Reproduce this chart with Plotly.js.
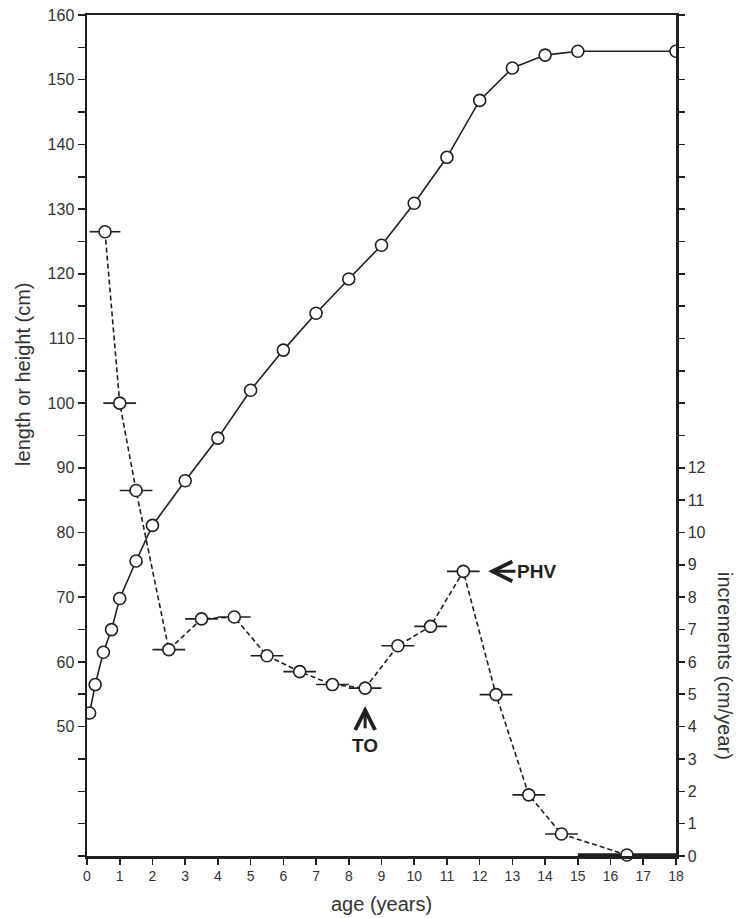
<!DOCTYPE html>
<html>
<head>
<meta charset="utf-8">
<script src="https://cdn.plot.ly/plotly-3.0.1.min.js"></script>
<style>
  html, body { margin: 0; padding: 0; background: #fff; }
  #chart { width: 737px; height: 918px; }
</style>
</head>
<body>
<div id="chart"></div>
<script>
// Height / length curve (left axis, cm)
var ageHeight = [0.08, 0.25, 0.5, 0.75, 1, 1.5, 2, 3, 4, 5, 6, 7, 8, 9, 10, 11, 12, 13, 14, 15, 18];
var heightCm  = [52.1, 56.5, 61.5, 65.0, 69.8, 75.6, 81.1, 88.0, 94.6, 102.0, 108.2, 113.9, 119.2, 124.4, 130.9, 138.0, 146.8, 151.8, 153.8, 154.4, 154.4];

// Increments (right axis, cm/year), plotted at interval midpoints
var ageIncr   = [0.55, 1, 1.5, 2.5, 3.5, 4.5, 5.5, 6.5, 7.5, 8.5, 9.5, 10.5, 11.5, 12.5, 13.5, 14.5];
var incrCmYr  = [19.3, 14.0, 11.3, 6.38, 7.33, 7.39, 6.19, 5.70, 5.30, 5.19, 6.50, 7.10, 8.80, 4.99, 1.89, 0.68];
var incrHalf  = [0.47, 0.5, 0.5, 0.5, 0.5, 0.5, 0.5, 0.5, 0.5, 0.5, 0.5, 0.5, 0.5, 0.5, 0.5, 0.5];

// Last increment (wide interval 15–18)
var ageLast   = [16.5];
var incrLast  = [0.03];
var halfLast  = [1.5];

// Tick labels
var leftTickVals = [30,35,40,45,50,55,60,65,70,75,80,85,90,95,100,105,110,115,120,125,130,135,140,145,150,155,160];
var leftTickText = ['','','','','50','','60','','70','','80','','90','','100','','110','','120','','130','','140','','150','','160'];
var rightTickVals = [0,1,2,3,4,5,6,7,8,9,10,11,12,13,14,15,16,17,18,19,20,21,22,23,24,25,26];
var rightTickText = ['0','1','2','3','4','5','6','7','8','9','10','11','12','','','','','','','','','','','','','',''];
var xTickVals = [0,1,2,3,4,5,6,7,8,9,10,11,12,13,14,15,16,17,18];

var ink = '#231f20';
var txt = '#333333';
var fontFam = 'Liberation Sans, Arial, Helvetica, sans-serif';

var marker = { symbol: 'circle', size: 12, color: '#ffffff', line: { color: ink, width: 1.6 } };

var incrLineX = ageIncr.concat(ageLast);
var incrLineY = incrCmYr.concat(incrLast);

var traces = [
  {
    x: ageHeight, y: heightCm, type: 'scatter', mode: 'lines+markers',
    line: { color: ink, width: 1.6 }, marker: marker, yaxis: 'y', hoverinfo: 'skip'
  },
  {
    x: incrLineX, y: incrLineY, type: 'scatter', mode: 'lines',
    line: { color: ink, width: 1.6, dash: '5px,3px' }, yaxis: 'y2', hoverinfo: 'skip'
  },
  {
    x: ageLast, y: incrLast, type: 'scatter', mode: 'markers',
    marker: marker, yaxis: 'y2', hoverinfo: 'skip',
    error_x: { type: 'data', array: halfLast, visible: true, color: ink, thickness: 3.5, width: 0 },
    cliponaxis: false
  },
  {
    x: ageIncr, y: incrCmYr, type: 'scatter', mode: 'markers',
    marker: marker, yaxis: 'y2', hoverinfo: 'skip',
    error_x: { type: 'data', array: incrHalf, visible: true, color: ink, thickness: 1.6, width: 0 },
    cliponaxis: false
  }
];

var layout = {
  width: 737, height: 918,
  margin: { l: 87, r: 61, t: 15, b: 62, pad: 0 },
  paper_bgcolor: '#ffffff', plot_bgcolor: '#ffffff',
  showlegend: false,
  font: { family: fontFam, color: txt, size: 14 },
  xaxis: {
    range: [0, 18], tickvals: xTickVals, ticks: 'outside', ticklen: 6, tickwidth: 1.6, tickcolor: ink,
    showline: true, linecolor: ink, linewidth: 2.5, mirror: true, showgrid: false, zeroline: false,
    tickfont: { size: 14, color: txt, family: fontFam }
  },
  yaxis: {
    range: [30, 160], tickvals: leftTickVals, ticktext: leftTickText, ticks: 'outside', ticklen: 7,
    tickwidth: 1.6, tickcolor: ink, showline: true, linecolor: ink, linewidth: 2.5, showgrid: false,
    zeroline: false, tickfont: { size: 16, color: txt, family: fontFam }
  },
  yaxis2: {
    range: [0, 26], overlaying: 'y', side: 'right', tickvals: rightTickVals, ticktext: rightTickText,
    ticks: 'outside', ticklen: 6, tickwidth: 1.6, tickcolor: ink, showline: true, linecolor: ink,
    linewidth: 2.5, showgrid: false, zeroline: false,
    tickfont: { size: 16, color: txt, family: fontFam }
  },
  annotations: [
    { text: 'length or height (cm)', xref: 'paper', yref: 'paper', x: -0.109, y: 0.573,
      xanchor: 'center', yanchor: 'middle', textangle: -90, showarrow: false,
      font: { size: 20, color: txt, family: fontFam } },
    { text: 'increments (cm/year)', xref: 'paper', yref: 'paper', x: 1.083, y: 0.226,
      xanchor: 'center', yanchor: 'middle', textangle: 90, showarrow: false,
      font: { size: 20, color: txt, family: fontFam } },
    { text: 'age (years)', xref: 'paper', yref: 'paper', x: 0.5, y: -0.057,
      xanchor: 'center', yanchor: 'middle', showarrow: false,
      font: { size: 20, color: txt, family: fontFam } },
    { text: '', x: 12.26, y: 8.8, xref: 'x', yref: 'y2', ax: 13.14, ay: 8.8, axref: 'x', ayref: 'y2',
      showarrow: true, arrowhead: 5, arrowsize: 1.3, arrowwidth: 3, arrowcolor: ink },
    { text: '<b>PHV</b>', x: 13.08, y: 8.8, xref: 'x', yref: 'y2', xanchor: 'left', yanchor: 'middle',
      showarrow: false, font: { size: 19, color: ink, family: fontFam } },
    { text: '', x: 8.5, y: 4.64, xref: 'x', yref: 'y2', ax: 8.5, ay: 3.9, axref: 'x', ayref: 'y2',
      showarrow: true, arrowhead: 5, arrowsize: 1.3, arrowwidth: 3, arrowcolor: ink },
    { text: '<b>TO</b>', x: 8.5, y: 3.42, xref: 'x', yref: 'y2', xanchor: 'center', yanchor: 'middle',
      showarrow: false, font: { size: 19, color: ink, family: fontFam } }
  ]
};

Plotly.newPlot('chart', traces, layout, { staticPlot: true, displayModeBar: false });
</script>
</body>
</html>
